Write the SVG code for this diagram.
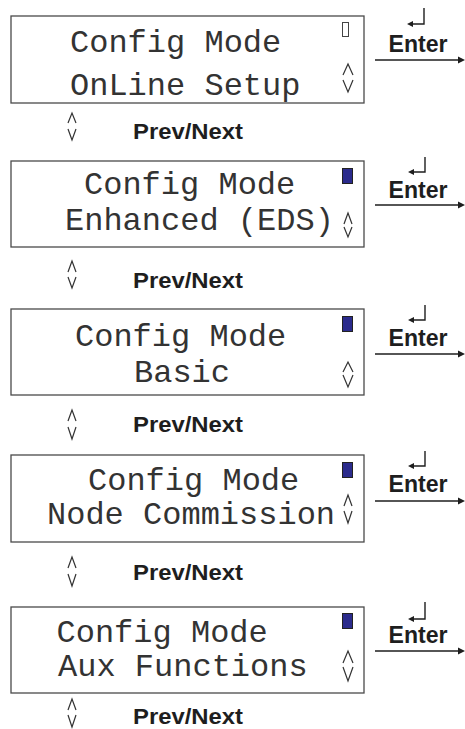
<svg xmlns="http://www.w3.org/2000/svg" width="465" height="729" viewBox="0 0 465 729">
<style>
.box{fill:#fff;stroke:#4a4a4a;stroke-width:1.3}
.lcd{font-family:"Courier New","Liberation Mono","DejaVu Sans Mono",monospace;font-size:32px;fill:#333}
.lbl{font-family:"Liberation Sans",Arial,sans-serif;font-weight:bold;fill:#1e1e1e}
.chev{fill:none;stroke:#333;stroke-width:1.2}
.ind{fill:#2b2b8c;stroke:#222;stroke-width:1}
.ind0{fill:#fff;stroke:#444;stroke-width:1}
.conn{stroke:#1e1e1e;stroke-width:1.4;fill:none}
.head{fill:#1e1e1e}
</style>
<rect width="465" height="729" fill="#fff"/>

<g id="node1">
<rect class="box" x="11" y="16" width="353" height="87"/>
<text class="lcd" x="70" y="52">Config Mode</text>
<text class="lcd" x="70" y="95">OnLine Setup</text>
<rect class="ind0" x="342.5" y="22.5" width="6" height="14"/>
<path class="chev" d="M343,75 L348,64 L353,75 M343,80 L348,92 L353,80"/>
</g>
<g id="node2">
<rect class="box" x="11" y="161" width="353" height="86"/>
<text class="lcd" x="84" y="194">Config Mode</text>
<text class="lcd" x="65" y="230">Enhanced (EDS)</text>
<rect class="ind" x="342.5" y="168.5" width="10" height="15"/>
<path class="chev" d="M344,224 L348,213 L352,224 M344,227 L348,237 L352,227"/>
</g>
<g id="node3">
<rect class="box" x="11" y="309" width="353" height="86"/>
<text class="lcd" x="75" y="346">Config Mode</text>
<text class="lcd" x="134" y="382">Basic</text>
<rect class="ind" x="342.5" y="316.5" width="10" height="15"/>
<path class="chev" d="M343,372 L348,362 L353,372 M343,375 L348,387 L353,375"/>
</g>
<g id="node4">
<rect class="box" x="11" y="455" width="353" height="87"/>
<text class="lcd" x="88" y="490">Config Mode</text>
<text class="lcd" x="47" y="524">Node Commission</text>
<rect class="ind" x="342.5" y="462.5" width="10" height="15"/>
<path class="chev" d="M344,506 L348,495 L352,506 M344,511 L348,523 L352,511"/>
</g>
<g id="node5">
<rect class="box" x="11" y="607" width="353" height="86"/>
<text class="lcd" x="56.5" y="642">Config Mode</text>
<text class="lcd" x="58" y="676">Aux Functions</text>
<rect class="ind" x="342.5" y="613.5" width="10" height="15"/>
<path class="chev" d="M343,663 L348,651 L353,663 M343,667 L348,681 L353,667"/>
</g>

<g id="prevnext1">
<path class="chev" d="M68,123 L72,113 L76,123 M68,129 L72,140 L76,129"/>
<text class="lbl" x="133" y="139" font-size="22" textLength="110" lengthAdjust="spacingAndGlyphs">Prev/Next</text>
</g>
<g id="prevnext2">
<path class="chev" d="M68,272 L72,261 L76,272 M68,277 L72,288 L76,277"/>
<text class="lbl" x="133" y="288" font-size="22" textLength="110" lengthAdjust="spacingAndGlyphs">Prev/Next</text>
</g>
<g id="prevnext3">
<path class="chev" d="M68,421 L72,410 L76,421 M68,427 L72,439 L76,427"/>
<text class="lbl" x="133" y="432" font-size="22" textLength="110" lengthAdjust="spacingAndGlyphs">Prev/Next</text>
</g>
<g id="prevnext4">
<path class="chev" d="M68,568 L72,557 L76,568 M68,574 L72,586 L76,574"/>
<text class="lbl" x="133" y="580" font-size="22" textLength="110" lengthAdjust="spacingAndGlyphs">Prev/Next</text>
</g>
<g id="prevnext5">
<path class="chev" d="M68,710 L72,699 L76,710 M68,715 L72,727 L76,715"/>
<text class="lbl" x="133" y="724" font-size="22" textLength="110" lengthAdjust="spacingAndGlyphs">Prev/Next</text>
</g>

<g id="connectors">
<g id="enter1">
<text class="lbl" x="388.5" y="52" font-size="23" textLength="59" lengthAdjust="spacingAndGlyphs">Enter</text>
<path class="conn" d="M424,8 V24 H411"/>
<polygon class="head" points="407,24 413,21 413,27"/>
<line class="conn" x1="375" y1="60" x2="459" y2="60"/>
<polygon class="head" points="465,60 458,56.5 458,63.5"/>
</g>
<g id="enter2">
<text class="lbl" x="388.5" y="198" font-size="23" textLength="59" lengthAdjust="spacingAndGlyphs">Enter</text>
<path class="conn" d="M425,157 V172 H412"/>
<polygon class="head" points="408,172 414,169 414,175"/>
<line class="conn" x1="375" y1="205" x2="459" y2="205"/>
<polygon class="head" points="465,205 458,201.5 458,208.5"/>
</g>
<g id="enter3">
<text class="lbl" x="388.5" y="346" font-size="23" textLength="59" lengthAdjust="spacingAndGlyphs">Enter</text>
<path class="conn" d="M425,305 V320 H412"/>
<polygon class="head" points="408,320 414,317 414,323"/>
<line class="conn" x1="375" y1="354" x2="459" y2="354"/>
<polygon class="head" points="465,354 458,350.5 458,357.5"/>
</g>
<g id="enter4">
<text class="lbl" x="388.5" y="492" font-size="23" textLength="59" lengthAdjust="spacingAndGlyphs">Enter</text>
<path class="conn" d="M425,451 V466 H412"/>
<polygon class="head" points="408,466 414,463 414,469"/>
<line class="conn" x1="375" y1="501" x2="459" y2="501"/>
<polygon class="head" points="465,501 458,497.5 458,504.5"/>
</g>
<g id="enter5">
<text class="lbl" x="388.5" y="643" font-size="23" textLength="59" lengthAdjust="spacingAndGlyphs">Enter</text>
<path class="conn" d="M425,602 V619 H412"/>
<polygon class="head" points="408,619 414,616 414,622"/>
<line class="conn" x1="375" y1="651" x2="459" y2="651"/>
<polygon class="head" points="465,651 458,647.5 458,654.5"/>
</g>
</g>
</svg>
